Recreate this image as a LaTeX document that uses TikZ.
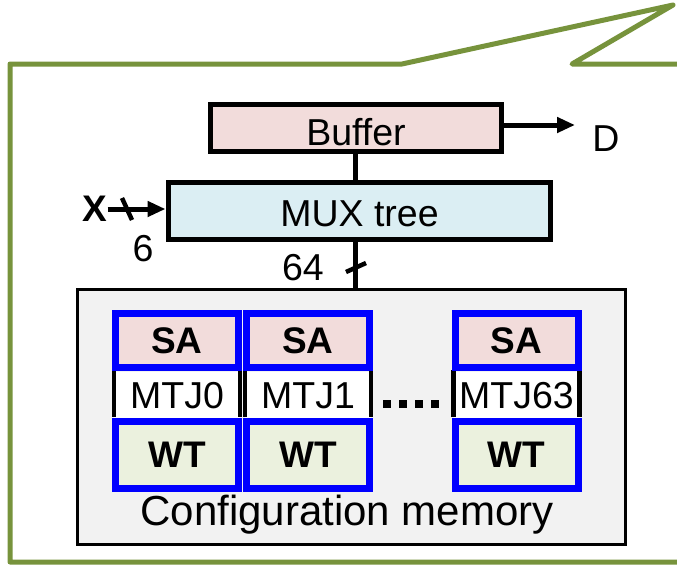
\documentclass[tikz,border=0pt]{standalone}
\usepackage{fontspec}
\setmainfont{Liberation Sans}
\usetikzlibrary{arrows.meta}
\definecolor{callgreen}{HTML}{77933C}
\definecolor{safill}{HTML}{F2DCDB}
\definecolor{wtfill}{HTML}{EBF1DE}
\definecolor{muxfill}{HTML}{DBEEF3}
\definecolor{cfgfill}{HTML}{F2F2F2}
\tikzset{
  blk/.style={draw=black, line width=5pt, inner sep=0pt},
  cellbox/.style={draw=blue, line width=7pt, inner sep=0pt, minimum width=123pt, font=\bfseries\fontsize{37}{40}\selectfont},
  mtjbox/.style={fill=white, inner sep=0pt, minimum width=126pt, minimum height=47pt, font=\fontsize{37.5}{40}\selectfont},
  lbl/.style={inner sep=0pt, font=\fontsize{37.5}{40}\selectfont},
  wire/.style={line width=5pt, draw=black},
  arr/.style={wire, -{Triangle[length=18pt,width=15pt]}},
  slash/.style={line width=4.5pt}
}
\begin{document}
\begin{tikzpicture}[x=1pt,y=-1pt]
\useasboundingbox (0,0) rectangle (677,566);
% callout
\draw[callgreen, line width=5pt, line join=round]
  (690,64) -- (572,64) -- (673,5) -- (402,64) -- (10,64) -- (10,562) -- (690,562);
% blocks
\node[blk, fill=safill, minimum width=291pt, minimum height=47pt] (buf) at (355.5,127.5) {};
\node[lbl] (buftxt) at (356,132) {Buffer};
\node[blk, fill=muxfill, minimum width=382pt, minimum height=57pt] (mux) at (359,210.5) {};
\node[lbl] (muxtxt) at (359.5,214) {MUX tree};
\node[draw=black, line width=3.5pt, fill=cfgfill, minimum width=548pt, minimum height=255pt, inner sep=0pt] (cfg) at (351.5,417) {};
\node[lbl, font=\fontsize{42}{46}\selectfont] (cfgtxt) at (347,515) {Configuration memory};
% wires
\draw[wire] (buf.south) -- (buf.south |- mux.north);
\draw[wire] (buf.south |- mux.south) -- (buf.south |- cfg.north);
\coordinate (dend) at (575,125);
\draw[arr] (buf.east |- dend) -- (dend);
\node[lbl] (D) at (606,139) {D};
\node[lbl, font=\bfseries\fontsize{37}{40}\selectfont] (X) at (95,209) {X};
\draw[arr] (X.east) -- (mux.west |- X.east);
\draw[slash] (122,198) -- (132,220);
\node[lbl] (six) at (143,249) {6};
\draw[slash] (346,272) -- (366,263);
\node[lbl] (sixtyfour) at (303,268) {64};
% cells
\foreach \n/\cx/\t in {a/177/MTJ0, b/308/MTJ1, c/516.5/MTJ63}{
  \node[mtjbox] (m\n) at (\cx,395.5) {\t};
  \draw[line width=4.5pt] (m\n.north west) ++(0,-2) -- ([yshift=2pt]m\n.south west);
  \draw[line width=4.5pt] (m\n.north east) ++(0,-2) -- ([yshift=2pt]m\n.south east);
  \node[cellbox, fill=safill, minimum height=54pt] (s\n) at (\cx,340.5) {SA};
  \node[cellbox, fill=wtfill, minimum height=67pt] (w\n) at (\cx,455) {WT};
}
\draw[line width=8pt, dash pattern=on 8pt off 8pt] (383,404) -- (439,404);
\end{tikzpicture}
\end{document}
